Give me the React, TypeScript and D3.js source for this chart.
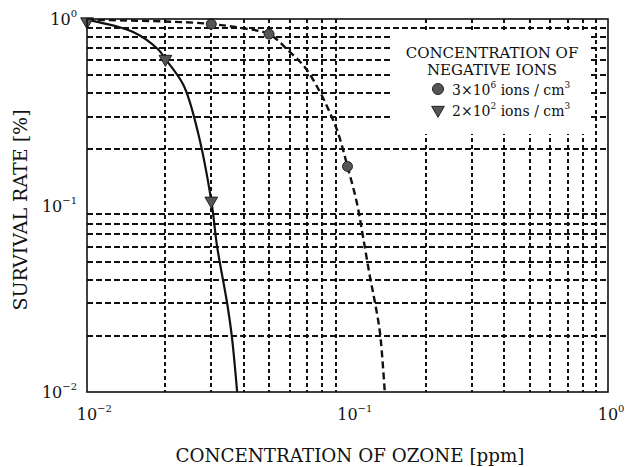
import { useRef, useEffect } from 'react';
import * as d3 from 'd3';

// decade ticks (exponents of 10) on both axes
const tickExponents = [-2, -1, 0];

// 3x10^6 ions / cm3 (circles, dashed line)
const highIonMarks = [
  { x: 0.03, y: 0.94 },
  { x: 0.05, y: 0.83 },
  { x: 0.1, y: 0.162 },
];
const highIonCurve = [
  { x: 0.01, y: 0.99 },
  { x: 0.02, y: 0.97 },
  { x: 0.03, y: 0.94 },
  { x: 0.04, y: 0.89 },
  { x: 0.05, y: 0.83 },
  { x: 0.0591, y: 0.68 },
  { x: 0.0687, y: 0.55 },
  { x: 0.0784, y: 0.406 },
  { x: 0.0857, y: 0.313 },
  { x: 0.092, y: 0.245 },
  { x: 0.1, y: 0.162 },
  { x: 0.1087, y: 0.103 },
  { x: 0.1147, y: 0.068 },
  { x: 0.122, y: 0.0414 },
  { x: 0.1276, y: 0.03 },
  { x: 0.1333, y: 0.0207 },
  { x: 0.139, y: 0.01 },
];

// 2x10^2 ions / cm3 (triangles, solid line)
const lowIonMarks = [
  { x: 0.01, y: 0.97 },
  { x: 0.02, y: 0.61 },
  { x: 0.03, y: 0.106 },
];
const lowIonCurve = [
  { x: 0.01, y: 0.99 },
  { x: 0.0151, y: 0.85 },
  { x: 0.0187, y: 0.69 },
  { x: 0.02, y: 0.61 },
  { x: 0.0235, y: 0.44 },
  { x: 0.0266, y: 0.25 },
  { x: 0.03, y: 0.106 },
  { x: 0.0316, y: 0.06 },
  { x: 0.0345, y: 0.03 },
  { x: 0.036, y: 0.0197 },
  { x: 0.0377, y: 0.01 },
];

const legendTitle = ['CONCENTRATION OF', 'NEGATIVE IONS'];
const legendItems = [
  { mantissa: '3×10', exp: '6', shape: 'circle' },
  { mantissa: '2×10', exp: '2', shape: 'triangle' },
];

const FONT = 'DejaVu Serif';

export default function App() {
  const svgRef = useRef(null);
  const width = 627;
  const height = 467;
  const plot = { left: 87, right: 608, top: 19, bottom: 392 };

  useEffect(() => {
    const svg = d3.select(svgRef.current);
    svg.selectAll('*').remove();

    const x = d3.scaleLog().domain([0.01, 1]).range([plot.left, plot.right]);
    const y = d3.scaleLog().domain([0.01, 1]).range([plot.bottom, plot.top]);

    const isDecade = (v) => Math.abs(Math.log10(v) - Math.round(Math.log10(v))) < 1e-6;
    const xMinor = x.ticks().filter(v => !isDecade(v));
    const yMinor = y.ticks().filter(v => !isDecade(v));

    const grid = svg.append('g')
      .attr('stroke', '#111').attr('stroke-width', 1.2).attr('fill', 'none')
      .attr('shape-rendering', 'crispEdges');
    grid.selectAll('line.h').data(yMinor).enter().append('line')
      .attr('x1', plot.left).attr('x2', plot.right)
      .attr('y1', d => Math.round(y(d))).attr('y2', d => Math.round(y(d)))
      .attr('stroke-dasharray', '6,3');
    grid.selectAll('line.v').data(xMinor).enter().append('line')
      .attr('y1', plot.top).attr('y2', plot.bottom)
      .attr('x1', d => Math.round(x(d))).attr('x2', d => Math.round(x(d)))
      .attr('stroke-dasharray', '4,3');

    // legend area blanks the grid
    svg.append('rect')
      .attr('x', 393).attr('y', 31).attr('width', 197).attr('height', 103)
      .attr('fill', 'white');

    const line = d3.line()
      .x(d => x(d.x))
      .y(d => y(d.y))
      .curve(d3.curveCatmullRom.alpha(0.5));

    svg.append('path')
      .datum(highIonCurve)
      .attr('d', line)
      .attr('fill', 'none')
      .attr('stroke', '#111')
      .attr('stroke-width', 2.4)
      .attr('stroke-dasharray', '7,4');

    svg.append('path')
      .datum(lowIonCurve)
      .attr('d', line)
      .attr('fill', 'none')
      .attr('stroke', '#111')
      .attr('stroke-width', 2.2);

    svg.selectAll('circle.mk').data(highIonMarks).enter().append('circle')
      .attr('cx', d => x(d.x)).attr('cy', d => y(d.y)).attr('r', 5)
      .attr('fill', '#555').attr('stroke', '#222').attr('stroke-width', 1);

    const tri = d3.symbol().type(d3.symbolTriangle).size(70);
    svg.selectAll('path.tri').data(lowIonMarks).enter().append('path')
      .attr('d', tri)
      .attr('transform', d => `translate(${x(d.x)},${y(d.y)}) rotate(180)`)
      .attr('fill', '#555').attr('stroke', '#222').attr('stroke-width', 1);

    // frame
    svg.append('rect')
      .attr('x', plot.left).attr('y', plot.top)
      .attr('width', plot.right - plot.left).attr('height', plot.bottom - plot.top)
      .attr('fill', 'none').attr('stroke', '#111').attr('stroke-width', 1.6);

    // tick labels
    const xl = svg.append('g').attr('font-family', FONT).attr('fill', '#111');
    tickExponents.forEach(e => {
      const label = e < 0 ? '−' + Math.abs(e) : String(e);
      const px = x(Math.pow(10, e));
      xl.append('text').attr('x', px).attr('y', 420).attr('text-anchor', 'middle')
        .attr('font-size', 16).text('10');
      xl.append('text').attr('x', px + 10).attr('y', 412).attr('font-size', 10)
        .text(label);

      const py = y(Math.pow(10, e));
      const t = xl.append('text').attr('x', 77).attr('y', py + 6).attr('text-anchor', 'end');
      t.append('tspan').attr('font-size', 16).text('10');
      t.append('tspan').attr('font-size', 10).attr('dy', -8).text(label);
    });

    // axis titles
    svg.append('text')
      .attr('x', 350).attr('y', 462).attr('text-anchor', 'middle')
      .attr('font-family', FONT).attr('font-size', 18.3).attr('fill', '#111')
      .text('CONCENTRATION OF OZONE [ppm]');
    svg.append('text')
      .attr('transform', 'translate(27,210) rotate(-90)')
      .attr('text-anchor', 'middle')
      .attr('font-family', FONT).attr('font-size', 19).attr('fill', '#111')
      .text('SURVIVAL RATE [%]');

    // legend
    const lg = svg.append('g').attr('font-family', FONT).attr('fill', '#111');
    legendTitle.forEach((s, i) => {
      lg.append('text').attr('x', 492).attr('y', 58 + i * 17).attr('text-anchor', 'middle')
        .attr('font-size', 15).text(s);
    });
    legendItems.forEach((it, i) => {
      const cy = 89 + i * 21;
      if (it.shape === 'circle') {
        lg.append('circle').attr('cx', 438).attr('cy', cy).attr('r', 5.5)
          .attr('fill', '#555').attr('stroke', '#222');
      } else {
        lg.append('path').attr('d', tri)
          .attr('transform', `translate(438,${cy}) rotate(180)`)
          .attr('fill', '#555').attr('stroke', '#222');
      }
      const t = lg.append('text').attr('x', 452).attr('y', cy + 6).attr('font-size', 14);
      t.append('tspan').text(it.mantissa);
      t.append('tspan').attr('font-size', 9).attr('dy', -7).text(it.exp);
      t.append('tspan').attr('dy', 7).text(' ions / cm');
      t.append('tspan').attr('font-size', 9).attr('dy', -7).text('3');
    });
  }, []);

  return (
    <svg ref={svgRef} width={width} height={height}
      style={{ position: 'absolute', left: 0, top: 0, background: 'white' }} />
  );
}
